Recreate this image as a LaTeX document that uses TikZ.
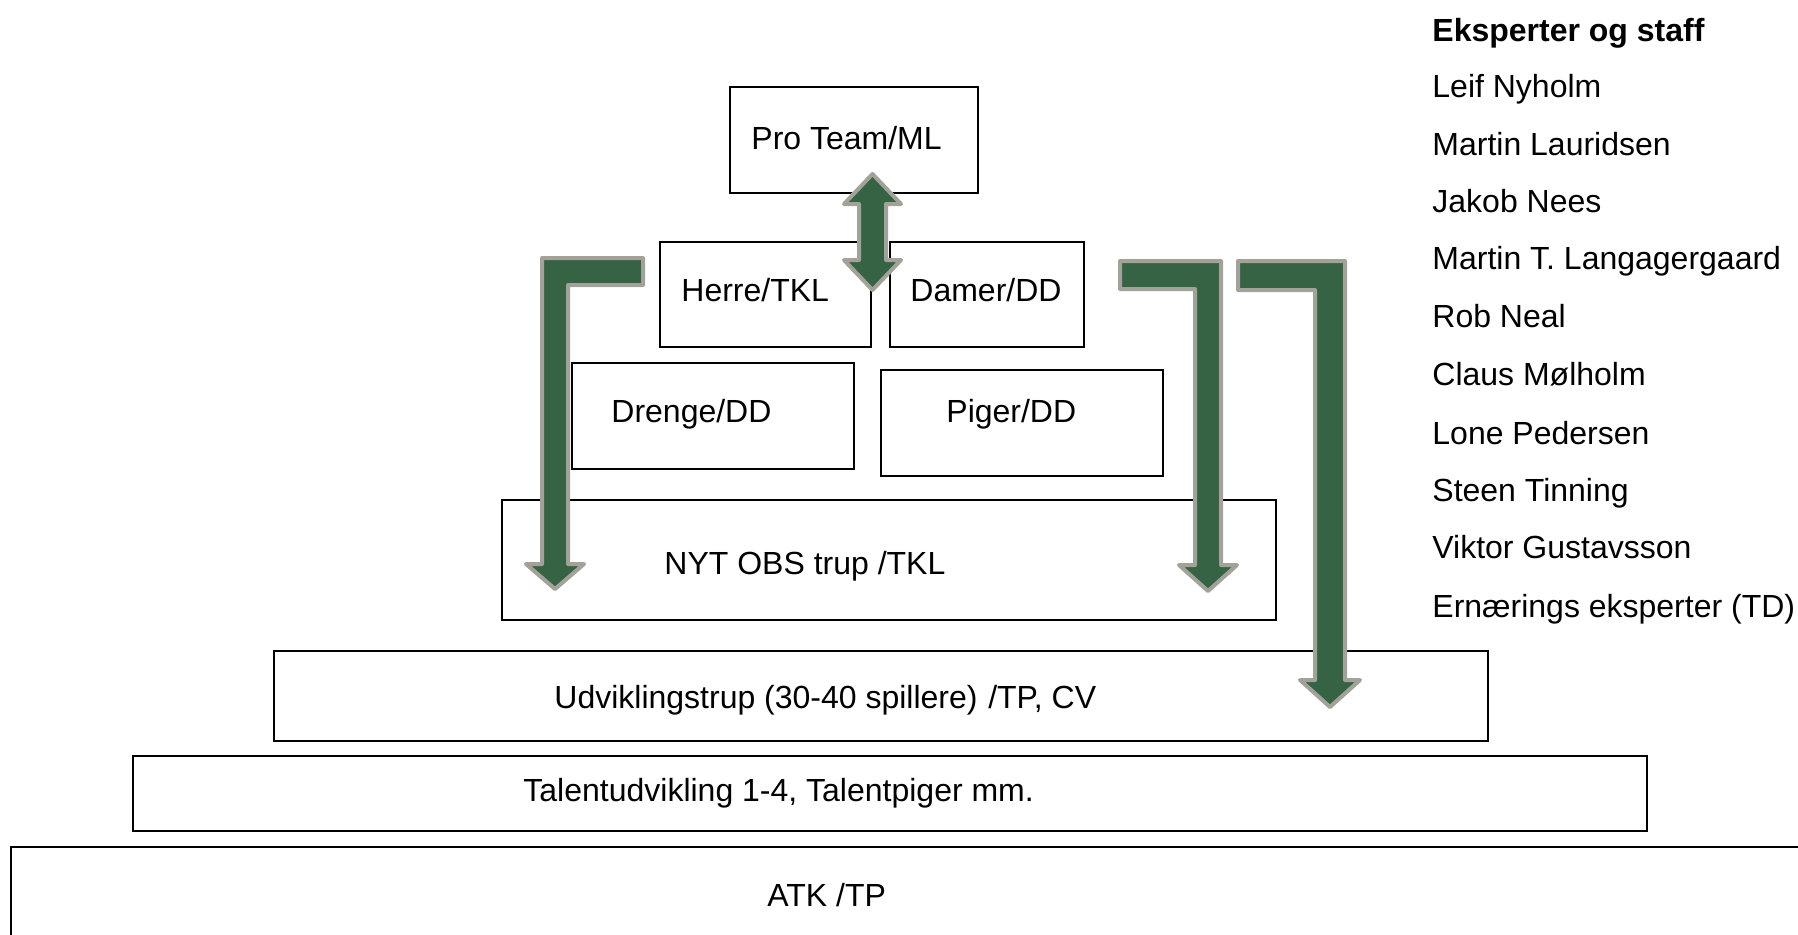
\documentclass[tikz,border=0pt]{standalone}
\usepackage{fontspec}
\setmainfont{Liberation Sans}
\usetikzlibrary{fit}
\definecolor{arrgreen}{RGB}{53,99,67}
\definecolor{arrgray}{RGB}{163,162,152}
\begin{document}
\begin{tikzpicture}[x=0.5pt,y=-0.5pt,
  box/.style={draw=black,line width=1pt,inner sep=0pt},
  lbl/.style={anchor=base west,inner sep=0pt,font=\fontsize{16}{18}\selectfont},
  fatarrow/.style={fill=arrgreen,draw=arrgray,line width=2pt,line join=round}]
\useasboundingbox (0,0) rectangle (1798,934);
\clip (0,0) rectangle (1798,934);
% boxes
\node[box,fit={(730,87) (978,193)}] (pro) {};
\node[box,fit={(660,242) (871,347)}] (herre) {};
\node[box,fit={(890,242) (1084,347)}] (damer) {};
\node[box,fit={(572,363) (854,469)}] (drenge) {};
\node[box,fit={(881,370) (1163,476)}] (piger) {};
\node[box,fit={(502,500) (1276,620)}] (nyt) {};
\node[box,fit={(274,651) (1488,741)}] (udv) {};
\node[box,fit={(133,756) (1647,831)}] (talent) {};
\node[box,fit={(11,847) (1830,960)}] (atk) {};
% labels
\node[lbl] (tpro) at (751,149) {Pro Team/ML};
\node[lbl] (therre) at (681,301) {Herre/TKL};
\node[lbl] (tdamer) at (910,301) {Damer/DD};
\node[lbl] (tdrenge) at (611,422) {Drenge/DD};
\node[lbl] (tpiger) at (946,422) {Piger/DD};
\node[lbl] (tnyt) at (664,574) {NYT OBS trup /TKL};
\node[lbl] (tudv) at (554,708) {Udviklingstrup (30-40 spillere)\,\,/TP, CV};
\node[lbl] (ttalent) at (523,801) {Talentudvikling 1-4, Talentpiger mm.};
\node[lbl] (tatk) at (767,906) {ATK /TP};
% staff list
\node[lbl,font=\fontsize{16}{18}\selectfont\bfseries] (s0) at (1432,41) {Eksperter og staff};
\node[lbl] (s1) at (1432,97) {Leif Nyholm};
\node[lbl] (s2) at (1432,155) {Martin Lauridsen};
\node[lbl] (s3) at (1432,212) {Jakob Nees};
\node[lbl] (s4) at (1432,269) {Martin T. Langagergaard};
\node[lbl] (s5) at (1432,327) {Rob Neal};
\node[lbl] (s6) at (1432,385) {Claus Mølholm};
\node[lbl] (s7) at (1432,444) {Lone Pedersen};
\node[lbl] (s8) at (1432,501) {Steen Tinning};
\node[lbl] (s9) at (1432,558) {Viktor Gustavsson};
\node[lbl] (s10) at (1432,617) {Ernærings eksperter (TD)};
% fat arrows
\draw[fatarrow] (872.5,174) -- (901,204) -- (886,204) -- (886,260) -- (901,260) -- (872.5,290) -- (844,260) -- (859,260) -- (859,204) -- (844,204) -- cycle;
\draw[fatarrow] (542,258) -- (643,258) -- (643,285) -- (568,285) -- (568,564) -- (584,564) -- (555,589) -- (526,564) -- (542,564) -- cycle;
\draw[fatarrow] (1120,261) -- (1221,261) -- (1221,565) -- (1237,565) -- (1208,591) -- (1179,565) -- (1195,565) -- (1195,289) -- (1120,289) -- cycle;
\draw[fatarrow] (1238,261) -- (1345,261) -- (1345,680) -- (1360,680) -- (1330,707) -- (1300,680) -- (1315,680) -- (1315,290) -- (1238,290) -- cycle;
\end{tikzpicture}
\end{document}
